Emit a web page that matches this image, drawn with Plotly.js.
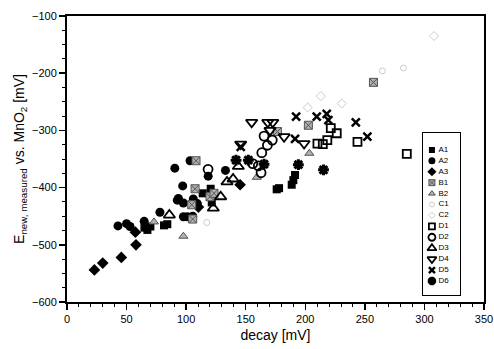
<!DOCTYPE html>
<html><head><meta charset="utf-8">
<script src="https://cdn.plot.ly/plotly-3.0.1.min.js"></script>
<style>html,body{margin:0;padding:0;background:#fff}#chart{width:494px;height:349px}</style>
</head><body><div id="chart"></div>
<script>
const seriesNames = ["A1","A2","A3","B1","B2","C1","C2","D1","D2","D3","D4","D5","D6"];

const A1_x = [65, 67.5, 70, 81.4, 84.2, 113.9, 120.6, 121.5, 176, 178, 188.6, 190, 191.4];
const A1_y = [-470, -474, -468, -466, -464, -410, -402, -426, -403, -401, -395, -387, -378];
const A2_x = [42.8, 50, 52.9, 64.8, 78, 90.5, 92.6, 93.5, 97.1, 97.7, 97.7, 101, 105.5, 103.3, 106, 109.4, 118.5, 133];
const A2_y = [-467, -463, -468, -459, -443, -366, -422, -419, -397, -427, -451, -451, -450, -353, -420, -428, -380, -370];
const A3_x = [23, 30, 45.6, 57.9, 57.4, 110.3, 145.3];
const A3_y = [-544, -532, -522, -500, -478, -434, -395];
const B1_x = [104.7, 105.5, 107.5, 108.3, 120, 123.4, 176.6, 202.6, 257.2];
const B1_y = [-430, -455, -402, -353, -416, -410, -302, -291, -216];
const B2_x = [73, 97.7, 159.3, 203.4];
const B2_y = [-460, -485, -382, -340];
const C1_x = [117.3, 264.7, 282.4];
const C1_y = [-461, -196, -191];
const C2_x = [202, 213, 230.6, 308.1];
const C2_y = [-260, -240, -253, -135];
const D1_x = [221.4, 226.4, 210.2, 214.7, 218.5, 243.8, 285.2];
const D1_y = [-296, -305, -323, -324, -317, -320, -341];
const D2_x = [118.4, 155.9, 160.6, 162.9, 163.5, 165.4, 172.3, 168.2];
const D2_y = [-368, -358, -362, -374, -339, -310, -317, -326];
const D3_x = [85.9, 122.8, 129, 134.3, 139.4, 143.8];
const D3_y = [-448, -436, -416, -390, -385, -363];
const D4_x = [145.8, 155, 168.5, 172.7, 170.4, 182.2, 199];
const D4_y = [-324, -286, -286, -286, -300, -311, -323];
const D5_x = [145.8, 192.3, 209.6, 218, 219.4, 242.4, 252.1, 191.4];
const D5_y = [-329, -276, -276, -271, -282, -286, -311, -315];
const D6_x = [141.9, 152.2, 165.4, 194.2, 215.3];
const D6_y = [-352, -352, -359, -360, -369];

const xTickVals = [0, 50, 100, 150, 200, 250, 300, 350];
const yTickVals = [-600, -500, -400, -300, -200, -100];

const dataX = [A1_x, A2_x, A3_x, B1_x, B2_x, C1_x, C2_x, D1_x, D2_x, D3_x, D4_x, D5_x, D6_x];
const dataY = [A1_y, A2_y, A3_y, B1_y, B2_y, C1_y, C2_y, D1_y, D2_y, D3_y, D4_y, D5_y, D6_y];

const styles = [
  {symbol:"square", color:"#000", size:8, line:{width:0}},
  {symbol:"circle", color:"#000", size:9, line:{width:0}},
  {symbol:"diamond", color:"#000", size:9, line:{width:0}},
  {symbol:"square-x", color:"#b0b0b0", size:8, line:{color:"#555", width:1}},
  {symbol:"triangle-up", color:"#b0b0b0", size:8, line:{color:"#555", width:1}},
  {symbol:"circle-open", color:"#cccccc", size:6, line:{color:"#cccccc", width:1}},
  {symbol:"diamond-open", color:"#cccccc", size:7, line:{color:"#cccccc", width:1}},
  {symbol:"square-open", color:"#000", size:8, line:{color:"#000", width:1.8}},
  {symbol:"circle-open", color:"#000", size:9, line:{color:"#000", width:1.8}},
  {symbol:"triangle-up-open", color:"#000", size:10, line:{color:"#000", width:1.8}},
  {symbol:"triangle-down-open", color:"#000", size:10, line:{color:"#000", width:1.8}},
  {symbol:"x-thin-open", color:"#000", size:8, line:{color:"#000", width:2.5}},
  {symbol:"asterisk-open", color:"#000", size:9, line:{color:"#000", width:3}}
];

const traces = [];
seriesNames.forEach((n, i) => {
  traces.push({type:"scatter", mode:"markers", name:n, x:dataX[i], y:dataY[i],
    marker:styles[i], showlegend:false, xaxis:"x", yaxis:"y", hoverinfo:"skip"});
});
// inset legend drawn as a small subplot
seriesNames.forEach((n, i) => {
  const s = styles[i];
  traces.push({type:"scatter", mode:"markers", x:[0.24], y:[i], xaxis:"x2", yaxis:"y2",
    marker:Object.assign({}, s, {size: Math.max(5, s.size - 2)}), showlegend:false, hoverinfo:"skip"});
});
traces.push({type:"scatter", mode:"text", x:seriesNames.map(()=>0.42), y:seriesNames.map((_, i)=>i),
  text:seriesNames, textposition:"middle right", textfont:{family:"Liberation Sans, Arial, sans-serif", size:8, color:"#000"},
  xaxis:"x2", yaxis:"y2", showlegend:false, hoverinfo:"skip"});

const font = {family:"Liberation Sans, Arial, sans-serif", color:"#000"};
const layout = {
  width:494, height:349,
  margin:{l:67, r:10, t:16, b:47},
  paper_bgcolor:"#fff", plot_bgcolor:"#fff",
  font: Object.assign({size:11}, font),
  showlegend:false,
  xaxis:{range:[0,350], tickvals:xTickVals, ticks:"outside", ticklen:6, tickwidth:1.5, tickcolor:"#000",
    showline:true, linewidth:2, linecolor:"#000", mirror:true, showgrid:false, zeroline:false,
    tickfont:{size:11}, minor:{dtick:10, ticks:"outside", ticklen:3, tickcolor:"#000", tickwidth:1},
    title:{text:"decay [mV]", font:{size:14}, standoff:6}},
  yaxis:{range:[-600,-100], tickvals:yTickVals, ticks:"outside", ticklen:6, tickwidth:1.5, tickcolor:"#000",
    showline:true, linewidth:2, linecolor:"#000", mirror:true, showgrid:false, zeroline:false,
    tickfont:{size:11}, minor:{dtick:25, ticks:"outside", ticklen:3, tickcolor:"#000", tickwidth:1},
    title:{text:"E<sub>new, measured</sub> vs. MnO<sub>2</sub> [mV]", font:{size:14}, standoff:4}},
  xaxis2:{domain:[0.854,0.942], range:[0,1], anchor:"y2", showline:true, mirror:true, linewidth:1.2, linecolor:"#000",
    showticklabels:false, ticks:"", showgrid:false, zeroline:false, fixedrange:true},
  yaxis2:{domain:[0.024,0.591], range:[13.3,-1.55], anchor:"x2", showline:true, mirror:true, linewidth:1.2, linecolor:"#000",
    showticklabels:false, ticks:"", showgrid:false, zeroline:false, fixedrange:true}
};
Plotly.newPlot("chart", traces, layout, {staticPlot:true, displayModeBar:false});
</script></body></html>
